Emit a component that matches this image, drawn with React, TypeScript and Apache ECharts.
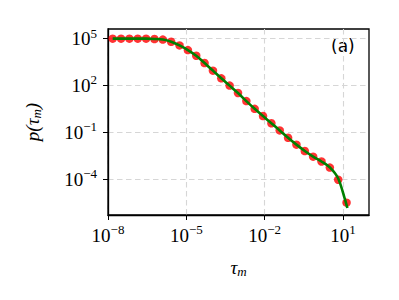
import React, { useEffect, useRef } from "react";
import * as echarts from "echarts";

// Measured residence-time distribution p(tau_m) (red markers)
const tau = [
  1.51e-8, 3.16e-8, 6.61e-8, 1.38e-7, 2.88e-7, 6.03e-7, 1.26e-6, 2.63e-6,
  5.5e-6, 1.15e-5, 2.4e-5, 5.01e-5, 1.05e-4, 2.19e-4, 4.57e-4, 9.55e-4,
  2.0e-3, 4.17e-3, 8.71e-3, 1.82e-2, 3.8e-2, 7.94e-2, 0.166, 0.347, 0.724,
  1.51, 3.16, 6.61, 13.8,
];
const p = [
  1.0e5, 1.0e5, 1.0e5, 1.0e5, 1.0e5, 9.5e4, 8.7e4, 6.3e4, 3.7e4, 1.86e4,
  8.1e3, 2.75e3, 891, 288, 98, 33, 10, 3.2, 1.1, 0.38, 0.132, 0.0447,
  0.0162, 6.3e-3, 2.75e-3, 1.35e-3, 5.5e-4, 9.1e-5, 3.1e-6,
];

// Fitted curve (green line)
const fitTau = [
  1.51e-8, 3.16e-8, 6.61e-8, 1.38e-7, 2.88e-7, 6.03e-7, 1.26e-6, 2.63e-6,
  5.5e-6, 1.15e-5, 2.4e-5, 5.01e-5, 1.05e-4, 2.19e-4, 4.57e-4, 9.55e-4,
  2.0e-3, 4.17e-3, 8.71e-3, 1.82e-2, 3.8e-2, 7.94e-2, 0.166, 0.347, 0.724,
  1.51, 3.16, 6.61, 12.0, 14.8,
];
const fitP = [
  1.0e5, 1.0e5, 1.0e5, 1.0e5, 1.0e5, 9.6e4, 8.8e4, 6.4e4, 3.7e4, 1.86e4,
  8.1e3, 2.75e3, 891, 288, 98, 33, 10, 3.2, 1.1, 0.38, 0.132, 0.0447,
  0.0162, 6.3e-3, 2.75e-3, 1.35e-3, 5.6e-4, 1.1e-4, 5.0e-6, 1.4e-6,
];

// Decade exponents shown on the axes
const xTickExps = [-8, -5, -2, 1];
const yTickExps = [-4, -1, 2, 5];
const xRange = [-8, 2];
const yRange = [-6.3, 5.62];

const SERIF = "'Liberation Serif', 'DejaVu Serif', serif";

const toLogPairs = (xs: number[], ys: number[]) =>
  xs.map((x, i) => [Math.log10(x), Math.log10(ys[i])]);

const powLabel = (v: number) => {
  const e = Math.round(v);
  const s = e < 0 ? "\u2212" + Math.abs(e) : String(e);
  return `{b|10}{s|${s}}`;
};

const tickRich = {
  b: { fontSize: 19, fontFamily: SERIF, color: "#000", lineHeight: 24 },
  s: {
    fontSize: 13,
    fontFamily: SERIF,
    color: "#000",
    verticalAlign: "top" as const,
    lineHeight: 13,
  },
};

const nameRich = {
  i: { fontSize: 19, fontFamily: SERIF, fontStyle: "italic", color: "#000", lineHeight: 22 },
  sub: {
    fontSize: 13,
    fontFamily: SERIF,
    fontStyle: "italic",
    color: "#000",
    verticalAlign: "bottom" as const,
    lineHeight: 13,
  },
};

export default function App() {
  const ref = useRef<HTMLDivElement>(null);

  useEffect(() => {
    if (!ref.current) return;
    const chart = echarts.init(ref.current, undefined, { renderer: "svg" });

    const splitLine = {
      show: true,
      lineStyle: { color: "#d6d6d6", width: 1.1, type: [5.5, 3.5] as number[] },
    };
    const axisLine = {
      show: true,
      onZero: false,
      lineStyle: { color: "#000", width: 1.3 },
    };

    chart.setOption({
      animation: false,
      backgroundColor: "#fff",
      grid: {
        left: 108,
        top: 29,
        width: 261,
        height: 186,
        show: true,
        borderColor: "#000",
        borderWidth: 1.3,
        backgroundColor: "transparent",
      },
      xAxis: {
        type: "value",
        min: xRange[0],
        max: xRange[1],
        axisLine,
        axisTick: {
          show: true,
          inside: false,
          length: 5,
          customValues: xTickExps,
          lineStyle: { color: "#000", width: 1 },
        },
        axisLabel: {
          customValues: xTickExps,
          formatter: powLabel,
          rich: tickRich,
          margin: 8,
        },
        splitLine,
        name: "{i|τ}{sub|m}",
        nameLocation: "middle",
        nameGap: 41,
        nameTextStyle: { rich: nameRich },
      },
      yAxis: {
        type: "value",
        min: yRange[0],
        max: yRange[1],
        axisLine,
        axisTick: {
          show: true,
          inside: false,
          length: 5,
          customValues: yTickExps,
          lineStyle: { color: "#000", width: 1 },
        },
        axisLabel: {
          customValues: yTickExps,
          formatter: powLabel,
          rich: tickRich,
          margin: 11,
        },
        splitLine,
        name: "{i|p(τ}{sub|m}{i|)}",
        nameLocation: "middle",
        nameRotate: 90,
        nameGap: 65,
        nameTextStyle: { rich: nameRich },
      },
      graphic: [
        {
          type: "text",
          left: 331,
          top: 37,
          style: {
            text: "(a)",
            font: "17px 'DejaVu Sans', sans-serif",
            fill: "#000",
          },
        },
      ],
      series: [
        {
          type: "scatter",
          data: toLogPairs(tau, p),
          symbol: "circle",
          symbolSize: 8.5,
          itemStyle: { color: "#ff0000" },
          z: 2,
        },
        {
          type: "line",
          data: toLogPairs(fitTau, fitP),
          showSymbol: false,
          smooth: 0.3,
          lineStyle: { color: "#008000", width: 2.6 },
          z: 3,
        },
      ],
    });

    return () => chart.dispose();
  }, []);

  return (
    <div
      ref={ref}
      style={{ position: "absolute", left: 0, top: 0, width: 399, height: 300 }}
    />
  );
}
